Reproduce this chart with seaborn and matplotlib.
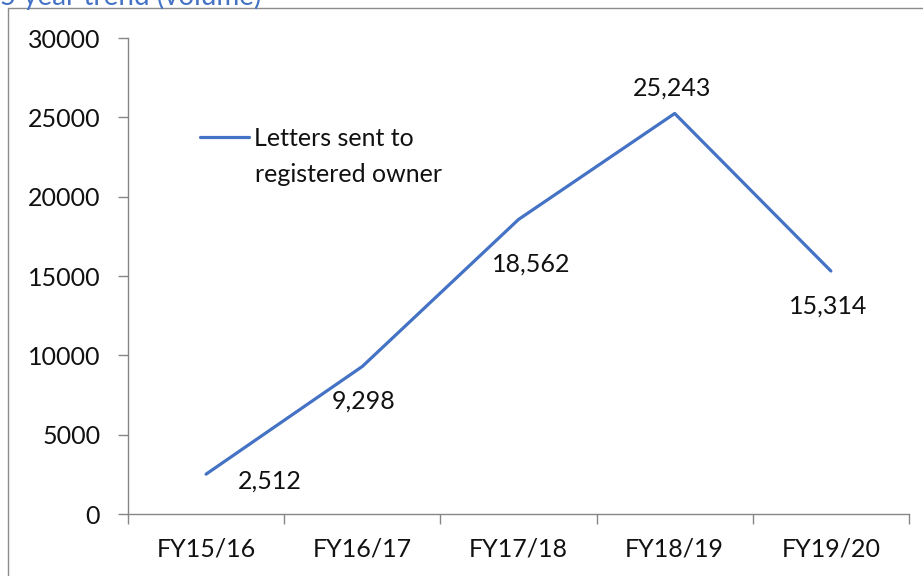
import matplotlib
matplotlib.use("Agg")
import matplotlib.pyplot as plt
import seaborn as sns
import pandas as pd
from matplotlib.lines import Line2D

# chart values
years = ["FY15/16", "FY16/17", "FY17/18", "FY18/19", "FY19/20"]
letters = [2512, 9298, 18562, 25243, 15314]
series_name = "Letters sent to"
series_name_2 = "registered owner"
title = "5 year trend (volume)"

df = pd.DataFrame({"year": years, "letters": letters})

sns.set_theme(style="white")
plt.rcParams["font.family"] = ["Lato", "DejaVu Sans"]

blue = "#4472C4"
grey = "#868686"
fs = 18

fig = plt.figure(figsize=(9.23, 5.76), dpi=100)
ax = fig.add_axes([128 / 923, 62 / 576, 781 / 923, 476 / 576])

sns.lineplot(data=df, x="year", y="letters", ax=ax, color=blue,
             linewidth=2.3, label=series_name, sort=False)

# data labels (offsets from the point, in points)
offsets = [(46, -5), (1, -25), (9, -32), (-2, 18), (-2, -25)]
for i, (v, off) in enumerate(zip(letters, offsets)):
    ax.annotate(f"{v:,}", (i, v), xytext=off, textcoords="offset points",
                ha="center", va="center", fontsize=fs, color="#111111")

ax.set_xlim(-0.5, len(years) - 0.5)
ax.set_ylim(0, 30000)
ax.set_yticks(range(0, 30001, 5000))
ax.set_xticks(range(len(years)))
ax.set_xticklabels(years)
ax.set_xticks([i - 0.5 for i in range(len(years) + 1)], minor=True)
ax.set_xlabel("")
ax.set_ylabel("")

for s in ["top", "right"]:
    ax.spines[s].set_visible(False)
for s in ["left", "bottom"]:
    ax.spines[s].set_color(grey)
    ax.spines[s].set_linewidth(1)

ax.tick_params(axis="y", which="major", direction="out", length=7, width=1,
               color=grey, pad=13, labelsize=fs, labelcolor="#111111", left=True)
ax.tick_params(axis="x", which="major", length=0, pad=17, labelsize=fs,
               labelcolor="#111111")
ax.tick_params(axis="x", which="minor", direction="out", length=7, width=1,
               color=grey, bottom=True)

leg = ax.legend(loc="upper left", bbox_to_anchor=(0.092, 0.814), frameon=False,
                fontsize=fs, handlelength=1.95, handletextpad=0.2,
                borderaxespad=0, borderpad=0)
for t in leg.get_texts():
    t.set_color("#111111")
ax.text(0.163, 0.714, series_name_2, transform=ax.transAxes, fontsize=fs,
        color="#111111", va="center", ha="left")

# outer frame of the screenshot
fig.add_artist(Line2D([8 / 923, 8 / 923], [0, 1 - 8 / 576], color="#8c8c8c",
                      lw=1, transform=fig.transFigure))
fig.add_artist(Line2D([8 / 923, 1], [1 - 8 / 576, 1 - 8 / 576], color="#8c8c8c",
                      lw=1, transform=fig.transFigure))

# heading, cut off by the top edge as in the screenshot
fig.text(0.0, 1 - 5 / 576, title, color=blue, fontsize=20, va="baseline", ha="left")

fig.savefig("out.png", dpi=100)
